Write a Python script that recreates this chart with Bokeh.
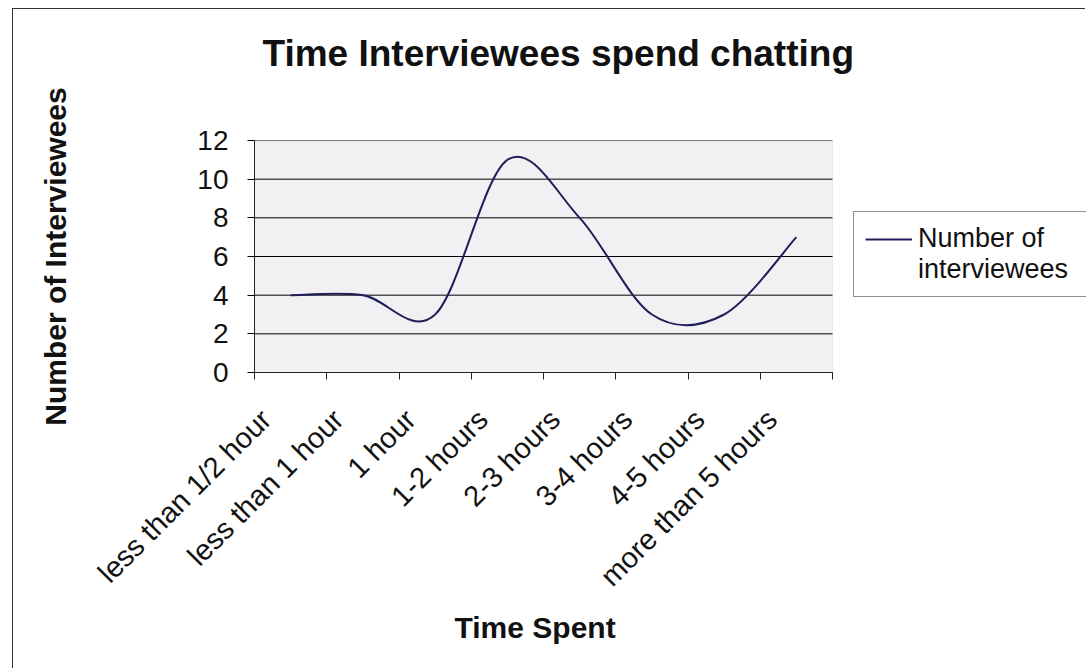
from bokeh.plotting import figure
from bokeh.models import (FixedTicker, Legend, LegendItem, CustomJSTickFormatter,
                          ColumnDataSource, BoxAnnotation, Title)
from bokeh.embed import file_html
from bokeh.resources import INLINE
from math import pi

# ---- data ----
categories = ["less than 1/2 hour", "less than 1 hour", "1 hour", "1-2 hours",
              "2-3 hours", "3-4 hours", "4-5 hours", "more than 5 hours"]
interviewees = [4, 4, 3, 11, 8, 3, 3, 7]
y_ticks = [0, 2, 4, 6, 8, 10, 12]

FONT = "Liberation Sans"
n = len(categories)
y_max = y_ticks[-1]

# category centres on a numeric axis (one unit per category)
xs = [i + 0.5 for i in range(n)]
boundaries = list(range(n + 1))
# slanted labels sit a little left of their category centre
label_pos = [x - 0.34 for x in xs]

# smoothed line: one cubic Bezier per pair of neighbouring points
# (Catmull-Rom tangents, as spreadsheet "smoothed line" charts do)
seg = dict(x0=[], y0=[], x1=[], y1=[], cx0=[], cy0=[], cx1=[], cy1=[])
for i in range(n - 1):
    pa = i - 1 if i > 0 else i
    pb = i + 2 if i + 2 < n else i + 1
    seg["x0"].append(xs[i]); seg["y0"].append(interviewees[i])
    seg["x1"].append(xs[i + 1]); seg["y1"].append(interviewees[i + 1])
    seg["cx0"].append(xs[i] + (xs[i + 1] - xs[pa]) / 6)
    seg["cy0"].append(interviewees[i] + (interviewees[i + 1] - interviewees[pa]) / 6)
    seg["cx1"].append(xs[i + 1] - (xs[pb] - xs[i]) / 6)
    seg["cy1"].append(interviewees[i + 1] - (interviewees[pb] - interviewees[i]) / 6)
src = ColumnDataSource(seg)

# the frame runs to the right edge so the legend can sit beside the plot area
W, H = 1073, 660
LEFT, TOP, BOTTOM = 241, 131, H - 363
PLOT_W = 578                     # pixel width of the shaded plot area
frame_w = W - LEFT
x_end = n * frame_w / PLOT_W

p = figure(width=W, height=H, x_range=(0, x_end), y_range=(0, y_max),
           title=None, output_backend="svg", toolbar_location=None,
           min_border_left=LEFT, min_border_right=0,
           min_border_top=TOP, min_border_bottom=BOTTOM)
p.margin = (8, 0, 0, 12)
p.styles = {"border-top": "1px solid #333", "border-left": "1px solid #333"}

p.background_fill_color = "white"
p.border_fill_color = "white"
p.outline_line_color = None

# shaded plot area
p.add_layout(BoxAnnotation(left=0, right=n, bottom=0, top=y_max,
                           fill_color="#f1f1f3", fill_alpha=1,
                           line_color="#c4c4c4", line_width=1, level="underlay"))

# title, held clear of the plot area by an empty spacer row
p.add_layout(Title(text=" ", text_font_size="1px", standoff=64), "above")
p.add_layout(Title(text="Time Interviewees spend chatting", align="left", offset=8,
                   text_font=FONT, text_font_size="37px", text_font_style="bold",
                   text_color="#111111", standoff=0), "above")

# horizontal grid lines across the plot area only
p.xgrid.visible = False
p.ygrid.visible = False
p.segment(x0=[0] * len(y_ticks), x1=[n] * len(y_ticks), y0=y_ticks, y1=y_ticks,
          line_color="black", line_width=1)

# y axis
ya = p.yaxis[0]
ya.ticker = FixedTicker(ticks=y_ticks)
ya.axis_line_color = "#222222"
ya.major_tick_out = 7
ya.major_tick_in = 0
ya.minor_tick_line_color = None
ya.major_label_standoff = 19
ya.major_label_text_font = FONT
ya.major_label_text_font_size = "28px"
ya.major_label_text_color = "#111111"
ya.axis_label = "Number of Interviewees"
ya.axis_label_text_font = FONT
ya.axis_label_text_font_size = "30px"
ya.axis_label_text_font_style = "bold"
ya.axis_label_text_color = "#111111"
ya.axis_label_standoff = 122

# x axis: tick marks on category boundaries, slanted names below the centres
xa = p.xaxis[0]
xa.bounds = (0, n)
xa.ticker = FixedTicker(ticks=label_pos, minor_ticks=boundaries)
xa.formatter = CustomJSTickFormatter(args=dict(labels=categories),
                                     code="return labels[Math.floor(tick)];")
xa.axis_line_color = "#222222"
xa.major_tick_out = 0
xa.major_tick_in = 0
xa.minor_tick_out = 7
xa.minor_tick_in = 0
xa.minor_tick_line_color = "#222222"
xa.major_label_orientation = pi / 4
xa.major_label_standoff = 35
xa.major_label_text_font = FONT
xa.major_label_text_font_size = "29px"
xa.major_label_text_color = "#111111"

# x axis title, centred under the plot area
p.add_layout(Title(text="Time Spent", align="left", offset=200, vertical_align="top",
                   text_font=FONT, text_font_size="30px", text_font_style="bold",
                   text_color="#111111", standoff=8), "below")

line = p.bezier(x0="x0", y0="y0", x1="x1", y1="y1", cx0="cx0", cy0="cy0",
                cx1="cx1", cy1="cy1", source=src, line_color="#1e1e5a", line_width=2)

# legend: sample line on the first row, label wraps onto a second row
blank = p.line(x=[], y=[], line_alpha=0)
legend = Legend(items=[LegendItem(label="Number of", renderers=[line]),
                       LegendItem(label="interviewees", renderers=[blank])],
                location=(599, 75), orientation="vertical")
legend.label_text_font = FONT
legend.label_text_font_size = "27px"
legend.label_text_color = "#111111"
legend.label_height = 28
legend.label_width = 165
legend.glyph_height = 28
legend.glyph_width = 47
legend.label_standoff = 6
legend.padding = 11
legend.spacing = 0
legend.margin = 0
legend.border_line_color = "#222222"
legend.border_line_width = 1
legend.background_fill_color = "white"
legend.background_fill_alpha = 1
p.add_layout(legend, "center")

open("out.html", "w").write(file_html(p, INLINE))
